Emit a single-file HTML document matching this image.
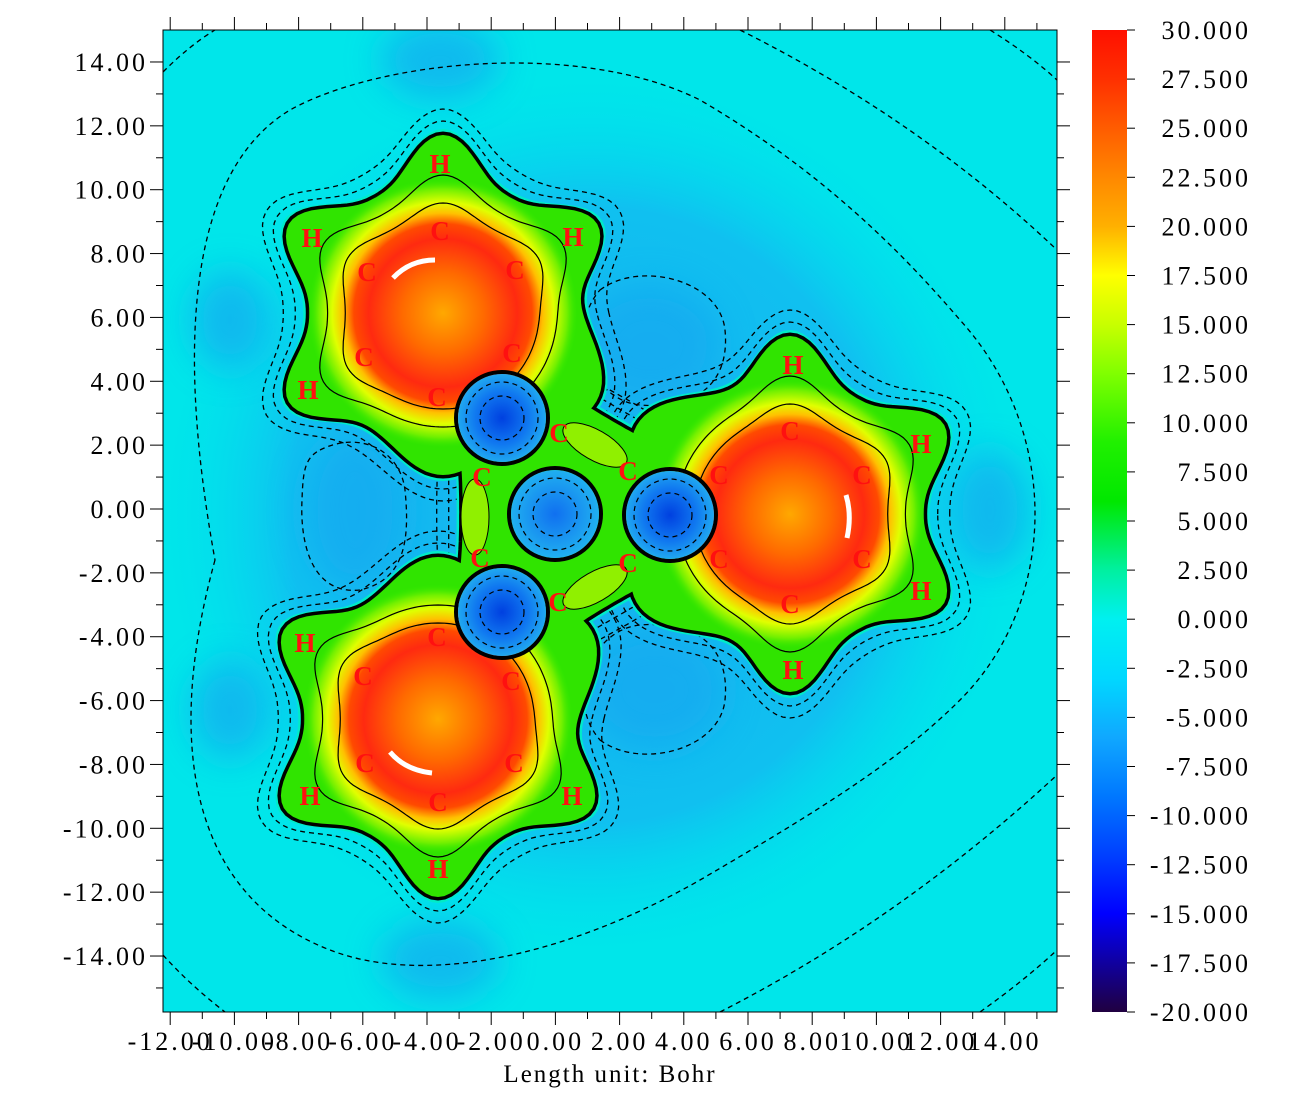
<!DOCTYPE html>
<html><head><meta charset="utf-8">
<style>
html,body{margin:0;padding:0;background:#fff;}
svg text{font-family:"Liberation Serif",serif;}
</style></head>
<body>
<svg id="s" width="1306" height="1103" xmlns="http://www.w3.org/2000/svg">
<defs>
<clipPath id="pc"><rect x="163" y="30" width="894" height="982"/></clipPath>
<linearGradient id="cb" x1="0" y1="0" x2="0" y2="1">
<stop offset="0" stop-color="#ff1000"/><stop offset="0.05" stop-color="#ff3000"/>
<stop offset="0.15" stop-color="#ff8800"/><stop offset="0.2" stop-color="#ffb000"/>
<stop offset="0.25" stop-color="#ffff00"/><stop offset="0.3" stop-color="#c8ff00"/>
<stop offset="0.35" stop-color="#80ff00"/><stop offset="0.42" stop-color="#20f000"/>
<stop offset="0.48" stop-color="#00e800"/><stop offset="0.55" stop-color="#00f0a0"/>
<stop offset="0.6" stop-color="#00f0f0"/><stop offset="0.66" stop-color="#00d8ff"/>
<stop offset="0.72" stop-color="#10a8ff"/><stop offset="0.78" stop-color="#0078ff"/>
<stop offset="0.84" stop-color="#0040ff"/><stop offset="0.9" stop-color="#0000ff"/>
<stop offset="1" stop-color="#200040"/></linearGradient>
<radialGradient id="rg"><stop offset="0" stop-color="#ffa800"/><stop offset="0.3" stop-color="#ff6a00"/>
<stop offset="0.55" stop-color="#ff2a10"/><stop offset="0.66" stop-color="#ff4a00"/>
<stop offset="0.74" stop-color="#ffc000"/><stop offset="0.82" stop-color="#e0ff00"/>
<stop offset="0.92" stop-color="#70f000"/><stop offset="1" stop-color="#30e800" stop-opacity="0"/></radialGradient>
<radialGradient id="bh"><stop offset="0" stop-color="#0040e0"/><stop offset="0.6" stop-color="#1078f0"/><stop offset="1" stop-color="#20a8f0"/></radialGradient>
<radialGradient id="bh2"><stop offset="0" stop-color="#1070f0"/><stop offset="1" stop-color="#20b0f0"/></radialGradient>
<radialGradient id="haze"><stop offset="0" stop-color="#18b0f0"/><stop offset="0.7" stop-color="#10c0f0"/><stop offset="1" stop-color="#00e0ee" stop-opacity="0"/></radialGradient>
<filter id="bl"><feGaussianBlur stdDeviation="18"/></filter>
</defs>
<g clip-path="url(#pc)">
<rect x="163" y="30" width="894" height="982" fill="#00e6ea"/>
<ellipse cx="590" cy="515" rx="430" ry="440" fill="url(#haze)"/>
<g filter="url(#bl)" fill="#14a8f0" opacity="0.7">
<ellipse cx="650" cy="345" rx="70" ry="60"/><ellipse cx="655" cy="690" rx="70" ry="60"/>
<ellipse cx="355" cy="510" rx="50" ry="80"/><ellipse cx="440" cy="60" rx="60" ry="40"/>
<ellipse cx="440" cy="960" rx="60" ry="40"/><ellipse cx="230" cy="320" rx="40" ry="50"/>
<ellipse cx="230" cy="710" rx="40" ry="50"/><ellipse cx="990" cy="510" rx="40" ry="60"/>
</g>
<g fill="none" stroke="#000" stroke-width="1.3" stroke-dasharray="5,4">
<path d="M 215 560 C 160 760 200 900 330 950 C 420 985 560 960 700 880 C 820 810 900 760 960 700 C 1060 600 1060 430 960 320 C 900 250 820 170 700 100 C 580 40 380 60 290 110 C 190 170 175 340 215 560 Z"/>
<path d="M 163 72 Q 190 45 215 30"/><path d="M 740 30 Q 920 120 1057 250"/><path d="M 990 30 Q 1030 55 1057 80"/>
<path d="M 163 955 Q 190 985 225 1012"/><path d="M 720 1012 Q 900 920 1057 775"/><path d="M 980 1012 Q 1025 980 1057 950"/>
<path d="M 600 290 C 640 260 720 280 725 330 C 730 380 700 410 640 405 C 590 400 565 330 600 290 Z"/>
<path d="M 600 740 C 640 770 720 750 725 700 C 730 650 700 620 640 625 C 590 630 565 700 600 740 Z"/>
<path d="M 320 450 C 360 430 400 450 405 490 C 410 540 405 580 360 590 C 310 595 300 540 302 500 C 303 470 305 458 320 450 Z"/>
</g>
<g id="L1"></g><g id="L2"></g><g id="L3"></g><g id="L4"></g><g id="L5"></g>
</g>
<g id="lab" font-weight="bold" font-size="27" fill="#ff1010" text-anchor="middle"></g>
<rect x="163" y="30" width="894" height="982" fill="none" stroke="#000" stroke-width="1"/>
<g id="ax" stroke="#000" stroke-width="1"></g>
<g id="axt" font-size="26" fill="#000" letter-spacing="3"></g>
<text x="610" y="1082" font-size="25" letter-spacing="2" text-anchor="middle">Length unit: Bohr</text>
<rect x="1092" y="30" width="35" height="982" fill="url(#cb)"/>
<g id="cbt" font-size="26" fill="#000" letter-spacing="3"></g>
</svg>
<script>
var NS="http://www.w3.org/2000/svg";
function el(p,t,a){var e=document.createElementNS(NS,t);for(var k in a)e.setAttribute(k,a[k]);document.getElementById(p).appendChild(e);return e;}
function ad(a,b){var d=((a-b)%360+540)%360-180;return d;}
function shape(cx,cy,R0,bumps,off){var s="";for(var t=0;t<360;t+=2){var r=R0+off;bumps.forEach(function(b){var d=ad(t,b[0]);r+=b[1]*Math.exp(-(d/b[2])*(d/b[2]));});var a=t*Math.PI/180;s+=(t?"L":"M")+(cx+r*Math.cos(a)).toFixed(1)+" "+(cy-r*Math.sin(a)).toFixed(1);}return s+"Z";}
var H=46,S=15;
var rings=[
 {c:[443,313],b:[[90,H,S],[30,H,S],[150,H,S],[210,H,S],[-30,45,22],[-90,30,20]]},
 {c:[438,719],b:[[270,H,S],[150,H,S],[210,H,S],[330,H,S],[30,45,22],[90,30,20]]},
 {c:[790,514],b:[[90,H,S],[30,H,S],[-30,H,S],[-90,H,S],[150,45,22],[210,45,22]]},
 {c:[565,512],b:[[120,55,25],[240,55,25],[0,60,25],[60,-10,30],[180,-10,30],[300,-10,30]],R:112}
];
rings.forEach(function(r){var R=r.R||132;
 el("L1","path",{d:shape(r.c[0],r.c[1],R,r.b,26),fill:"none",stroke:"#000","stroke-width":1.3,"stroke-dasharray":"5,4"});
 el("L1","path",{d:shape(r.c[0],r.c[1],R,r.b,14),fill:"none",stroke:"#000","stroke-width":1.3,"stroke-dasharray":"5,4"});
});
rings.forEach(function(r){var R=r.R||132;el("L2","path",{d:shape(r.c[0],r.c[1],R,r.b,6),fill:"#00ecc8",stroke:"none"});});
rings.forEach(function(r){var R=r.R||132;el("L2","path",{d:shape(r.c[0],r.c[1],R,r.b,0),fill:"none",stroke:"#000","stroke-width":7});});
rings.forEach(function(r){var R=r.R||132;el("L2","path",{d:shape(r.c[0],r.c[1],R,r.b,0),fill:"#30e400"});});
rings.slice(0,3).forEach(function(r){
 el("L3","circle",{cx:r.c[0],cy:r.c[1],r:135,fill:"url(#rg)"});
 var hb=r.b.slice(0,4).map(function(b){return [b[0],14,18];});
 el("L3","path",{d:shape(r.c[0],r.c[1],96,hb,0),fill:"none",stroke:"#000","stroke-width":1.2});
 el("L3","path",{d:shape(r.c[0],r.c[1],114,hb.map(function(b){return [b[0],24,16];}),0),fill:"none",stroke:"#000","stroke-width":1.2});
});
[[502,418,1],[555,514,2],[670,515,1],[502,612,1]].forEach(function(h){
 el("L4","circle",{cx:h[0],cy:h[1],r:46,fill:"none",stroke:"#000","stroke-width":4});
 el("L4","circle",{cx:h[0],cy:h[1],r:44,fill:h[2]==1?"url(#bh)":"url(#bh2)"});
 el("L4","circle",{cx:h[0],cy:h[1],r:36,fill:"none",stroke:"#000","stroke-width":1.2,"stroke-dasharray":"5,4"});
 el("L4","circle",{cx:h[0],cy:h[1],r:22,fill:"none",stroke:"#000","stroke-width":1.2,"stroke-dasharray":"5,4"});
});
el("L4","ellipse",{cx:475,cy:517,rx:14,ry:38,fill:"#90f000",stroke:"#000","stroke-width":1});
el("L4","ellipse",{cx:595,cy:445,rx:36,ry:15,transform:"rotate(30 595 445)",fill:"#90f000",stroke:"#000","stroke-width":1});
el("L4","ellipse",{cx:595,cy:587,rx:36,ry:15,transform:"rotate(-30 595 587)",fill:"#90f000",stroke:"#000","stroke-width":1});
el("L5","path",{d:"M393 278 Q410 260 435 260",fill:"none",stroke:"#fff","stroke-width":5});
el("L5","path",{d:"M390 752 Q405 770 432 773",fill:"none",stroke:"#fff","stroke-width":5});
el("L5","path",{d:"M846 495 Q852 515 847 538",fill:"none",stroke:"#fff","stroke-width":5});
var labs=[["H",440,172],["H",312,246],["H",573,245],["H",308,398],["C",440,239],["C",367,280],["C",515,278],["C",364,365],["C",512,361],["C",437,405],
["C",482,485],["C",480,566],["C",559,441],["C",628,479],["C",628,571],["C",558,610],
["H",793,373],["H",921,452],["H",921,599],["H",793,678],["C",790,439],["C",719,483],["C",862,483],["C",719,567],["C",862,567],["C",790,612],
["H",305,651],["H",310,804],["H",438,877],["H",572,804],["C",437,645],["C",363,684],["C",511,689],["C",365,771],["C",514,771],["C",438,810]];
labs.forEach(function(l){var t=el("lab","text",{x:l[1],y:l[2]+1});t.textContent=l[0];});
function ln(x1,y1,x2,y2){el("ax","line",{x1:x1,y1:y1,x2:x2,y2:y2});}
for(var v=-15;v<=14.5;v+=1){var y=509-v*31.93;if(y<30||y>1012)continue;var maj=Math.abs(v%2)<0.01;ln(163,y,maj?150:156,y);ln(1057,y,maj?1070:1064,y);
 if(maj){var t=el("axt","text",{x:148,y:y+9,"text-anchor":"end"});t.textContent=v.toFixed(2);}}
for(var v=-12;v<=15;v+=1){var x=555.4+v*32.1;if(x<163||x>1057)continue;var maj=Math.abs(v%2)<0.01;ln(x,1012,x,maj?1025:1019);ln(x,30,x,maj?17:23);
 if(maj){var t=el("axt","text",{x:x,y:1050,"text-anchor":"middle"});t.textContent=v.toFixed(2);}}
for(var i=0;i<=20;i++){var v=30-i*2.5,y=30+i*49.1;el("ax","line",{x1:1127,y1:y,x2:1135,y2:y});
 var t=el("cbt","text",{x:1251,y:y+9,"text-anchor":"end"});t.textContent=v.toFixed(3);}
</script>
</body></html>
